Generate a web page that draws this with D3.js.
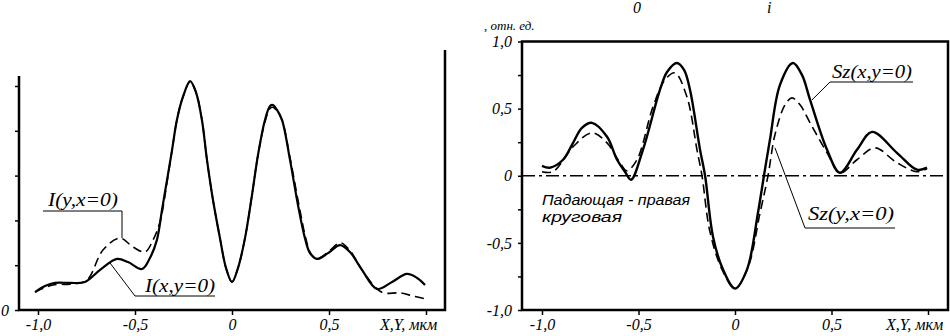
<!DOCTYPE html>
<html><head><meta charset="utf-8">
<script src="https://cdn.jsdelivr.net/npm/d3@7"></script>
<style>
body{margin:0;background:#fff;}
svg text{font-family:"Liberation Serif","Tinos","Times New Roman","DejaVu Serif",serif !important;font-style:italic !important;fill:#000;}
svg text.sans{font-family:"Liberation Sans","Arimo",Arial,"DejaVu Sans",sans-serif !important;}
</style></head>
<body><svg id="c" width="950" height="336"></svg>
<script>
// ---------- data ----------
// Left panel: intensity I
const ixX = [-1.015,-0.964,-0.912,-0.835,-0.758,-0.680,-0.593,-0.536,-0.464,-0.423,-0.387,-0.361,-0.335,-0.309,-0.284,-0.253,-0.216,-0.186,-0.155,-0.129,-0.098,-0.062,-0.031,0,0.031,0.067,0.103,0.134,0.170,0.196,0.211,0.232,0.258,0.299,0.340,0.376,0.402,0.438,0.495,0.557,0.608,0.670,0.747,0.825,0.902,0.954,0.995];
const ixY = [0.080,0.107,0.121,0.121,0.125,0.179,0.228,0.214,0.183,0.232,0.313,0.446,0.580,0.714,0.848,0.951,1.022,0.973,0.848,0.670,0.491,0.321,0.188,0.125,0.188,0.321,0.513,0.692,0.848,0.911,0.915,0.893,0.848,0.670,0.469,0.321,0.254,0.228,0.254,0.290,0.259,0.179,0.094,0.125,0.161,0.143,0.112];
const iyX = [-1.015,-0.923,-0.820,-0.747,-0.665,-0.577,-0.510,-0.448,-0.407,-0.371,-0.335,-0.309,-0.284,-0.253,-0.216,-0.186,-0.155,-0.129,-0.098,-0.062,-0.031,0,0.031,0.067,0.103,0.134,0.170,0.196,0.211,0.232,0.258,0.299,0.345,0.380,0.405,0.438,0.495,0.557,0.608,0.670,0.747,0.783,0.869,0.943,1.005];
const iyY = [0.080,0.112,0.116,0.134,0.268,0.321,0.281,0.259,0.313,0.393,0.570,0.714,0.848,0.951,1.018,0.973,0.848,0.670,0.491,0.321,0.188,0.125,0.188,0.321,0.513,0.692,0.840,0.900,0.905,0.888,0.848,0.680,0.469,0.321,0.254,0.228,0.258,0.300,0.265,0.179,0.094,0.076,0.076,0.060,0.049];
// Right panel: Sz
const sxX = [-1.0,-0.959,-0.891,-0.839,-0.793,-0.741,-0.663,-0.611,-0.570,-0.539,-0.477,-0.389,-0.352,-0.301,-0.264,-0.233,-0.181,-0.155,-0.114,-0.062,0,0.062,0.119,0.150,0.181,0.233,0.300,0.347,0.389,0.477,0.544,0.632,0.710,0.839,0.943,0.995];
const sxY = [0.074,0.060,0.119,0.245,0.357,0.394,0.290,0.119,0.030,-0.030,0.193,0.639,0.773,0.840,0.788,0.639,0.193,0,-0.454,-0.699,-0.840,-0.699,-0.275,0,0.268,0.677,0.840,0.751,0.565,0.193,0.022,0.193,0.327,0.171,0.045,0.060];
const syX = [-1.0,-0.943,-0.839,-0.741,-0.663,-0.596,-0.560,-0.508,-0.425,-0.363,-0.311,-0.249,-0.197,-0.171,-0.130,-0.067,0,0.067,0.130,0.171,0.207,0.259,0.295,0.337,0.389,0.477,0.544,0.632,0.725,0.839,0.943,0.995];
const syY = [0.030,0.030,0.216,0.320,0.245,0.097,0.037,0.119,0.513,0.714,0.766,0.587,0.193,0,-0.416,-0.699,-0.840,-0.684,-0.275,0,0.305,0.528,0.580,0.528,0.394,0.171,0.022,0.119,0.208,0.097,0.030,0.052];
// ticks
const xTicks = [-1,-0.5,0,0.5,1];
const xTickLabels = ["-1,0","-0,5","0","0,5",""];
const leftYTicks = [0,0.2,0.4,0.6,0.8,1.0];
const rightYTicks = [-1,-0.75,-0.5,-0.25,0,0.25,0.5,0.75,1];
const rightYLabels = {"-1":"-1,0","-0.5":"-0,5","0":"0","0.5":"0,5","1":"1,0"};

// ---------- drawing ----------
const svg = d3.select("#c");
const xL = d3.scaleLinear([-1,1],[38,426]);
const yL = d3.scaleLinear([0,1],[310,86]);
const xR = d3.scaleLinear([-1,1],[542,928]);
const yR = d3.scaleLinear([-1,1],[310,41.5]);

function series(xs, ys){ return xs.map((x,i)=>[x,ys[i]]); }

const gLx = svg.append("g").attr("transform","translate(0,310)")
  .call(d3.axisBottom(xL).tickValues(xTicks).tickSize(5).tickPadding(4)
  .tickFormat((d,i)=>xTickLabels[i]));
const gLy = svg.append("g").attr("transform","translate(19,0)")
  .call(d3.axisLeft(yL).tickValues(leftYTicks).tickSize(4).tickPadding(6)
  .tickFormat(d=>d===0?"0":""));
const gRx = svg.append("g").attr("transform","translate(0,310)")
  .call(d3.axisBottom(xR).tickValues(xTicks).tickSize(5).tickPadding(4)
  .tickFormat((d,i)=>xTickLabels[i]));
const gRy = svg.append("g").attr("transform","translate(522,0)")
  .call(d3.axisLeft(yR).tickValues(rightYTicks).tickSize(4).tickPadding(6)
  .tickFormat(d=>rightYLabels[String(d)]||""));
[gLx,gLy,gRx,gRy].forEach(g=>{
  g.attr("font-family",null).attr("font-size",null);
  g.select(".domain").remove();
  g.selectAll(".tick line").attr("stroke","#000").attr("stroke-width",1.5);
  g.selectAll(".tick text").style("font-size","16px");
});

const fr = svg.append("g").attr("fill","none").attr("stroke","#000").attr("stroke-width",2.5);
fr.append("path").attr("d",`M19,76V310H445V50`);
fr.append("rect").attr("x",522).attr("y",41.5).attr("width",426).attr("height",268.5);

svg.append("line").attr("x1",522).attr("x2",948).attr("y1",yR(0)).attr("y2",yR(0))
  .attr("stroke","#000").attr("stroke-width",1.6).attr("stroke-dasharray","13,4,3,4");

const lineL = d3.line().x(d=>xL(d[0])).y(d=>yL(d[1])).curve(d3.curveCatmullRom.alpha(0.5));
const lineR = d3.line().x(d=>xR(d[0])).y(d=>yR(d[1])).curve(d3.curveCatmullRom.alpha(0.5));

svg.append("path").attr("d",lineL(series(iyX,iyY))).attr("fill","none").attr("stroke","#000")
  .attr("stroke-width",1.6).attr("stroke-dasharray","9,5");
svg.append("path").attr("d",lineL(series(ixX,ixY))).attr("fill","none").attr("stroke","#000")
  .attr("stroke-width",2.2);
svg.append("path").attr("d",lineR(series(syX,syY))).attr("fill","none").attr("stroke","#000")
  .attr("stroke-width",1.6).attr("stroke-dasharray","9,5");
svg.append("path").attr("d",lineR(series(sxX,sxY))).attr("fill","none").attr("stroke","#000")
  .attr("stroke-width",2.4);

const ann = svg.append("g").attr("stroke","#000").attr("stroke-width",1).attr("fill","none");
function label(t,x,y,w,size){
  svg.append("text").attr("x",x).attr("y",y).style("font-size",(size||19)+"px")
    .attr("textLength",w).attr("lengthAdjust","spacingAndGlyphs").text(t);
}
label("I(y,x=0)",48,206,70);
ann.append("path").attr("d",`M43,211H122V${yL(0.321)}`);
label("I(x,y=0)",145,292,70);
ann.append("path").attr("d",`M215,296H135L${xL(-0.629)},${yL(0.21)}`);
label("Sz(x,y=0)",832,78,80);
ann.append("path").attr("d",`M913,82H830L${xR(0.399)},${yR(0.565)}`);
label("Sz(y,x=0)",808,220,86);
ann.append("path").attr("d",`M895,228H805L${xR(0.207)},${yR(0.208)}`);

svg.append("text").attr("class","sans").attr("x",542).attr("y",205).style("font-size","15px")
  .attr("textLength",148).attr("lengthAdjust","spacingAndGlyphs").text("Падающая - правая");
svg.append("text").attr("class","sans").attr("x",542).attr("y",222).style("font-size","15px")
  .attr("textLength",80).attr("lengthAdjust","spacingAndGlyphs").text("круговая");

svg.append("text").attr("x",380).attr("y",330).style("font-size","16px").text("X,Y, мкм");
svg.append("text").attr("x",886).attr("y",330).style("font-size","16px").text("X,Y, мкм");
svg.append("text").attr("x",633).attr("y",13).style("font-size","16px").text("0");
svg.append("text").attr("x",767).attr("y",13).style("font-size","16px").text("i");
svg.append("text").attr("x",484).attr("y",30).style("font-size","13px").text(", отн. ед.");
</script></body></html>
